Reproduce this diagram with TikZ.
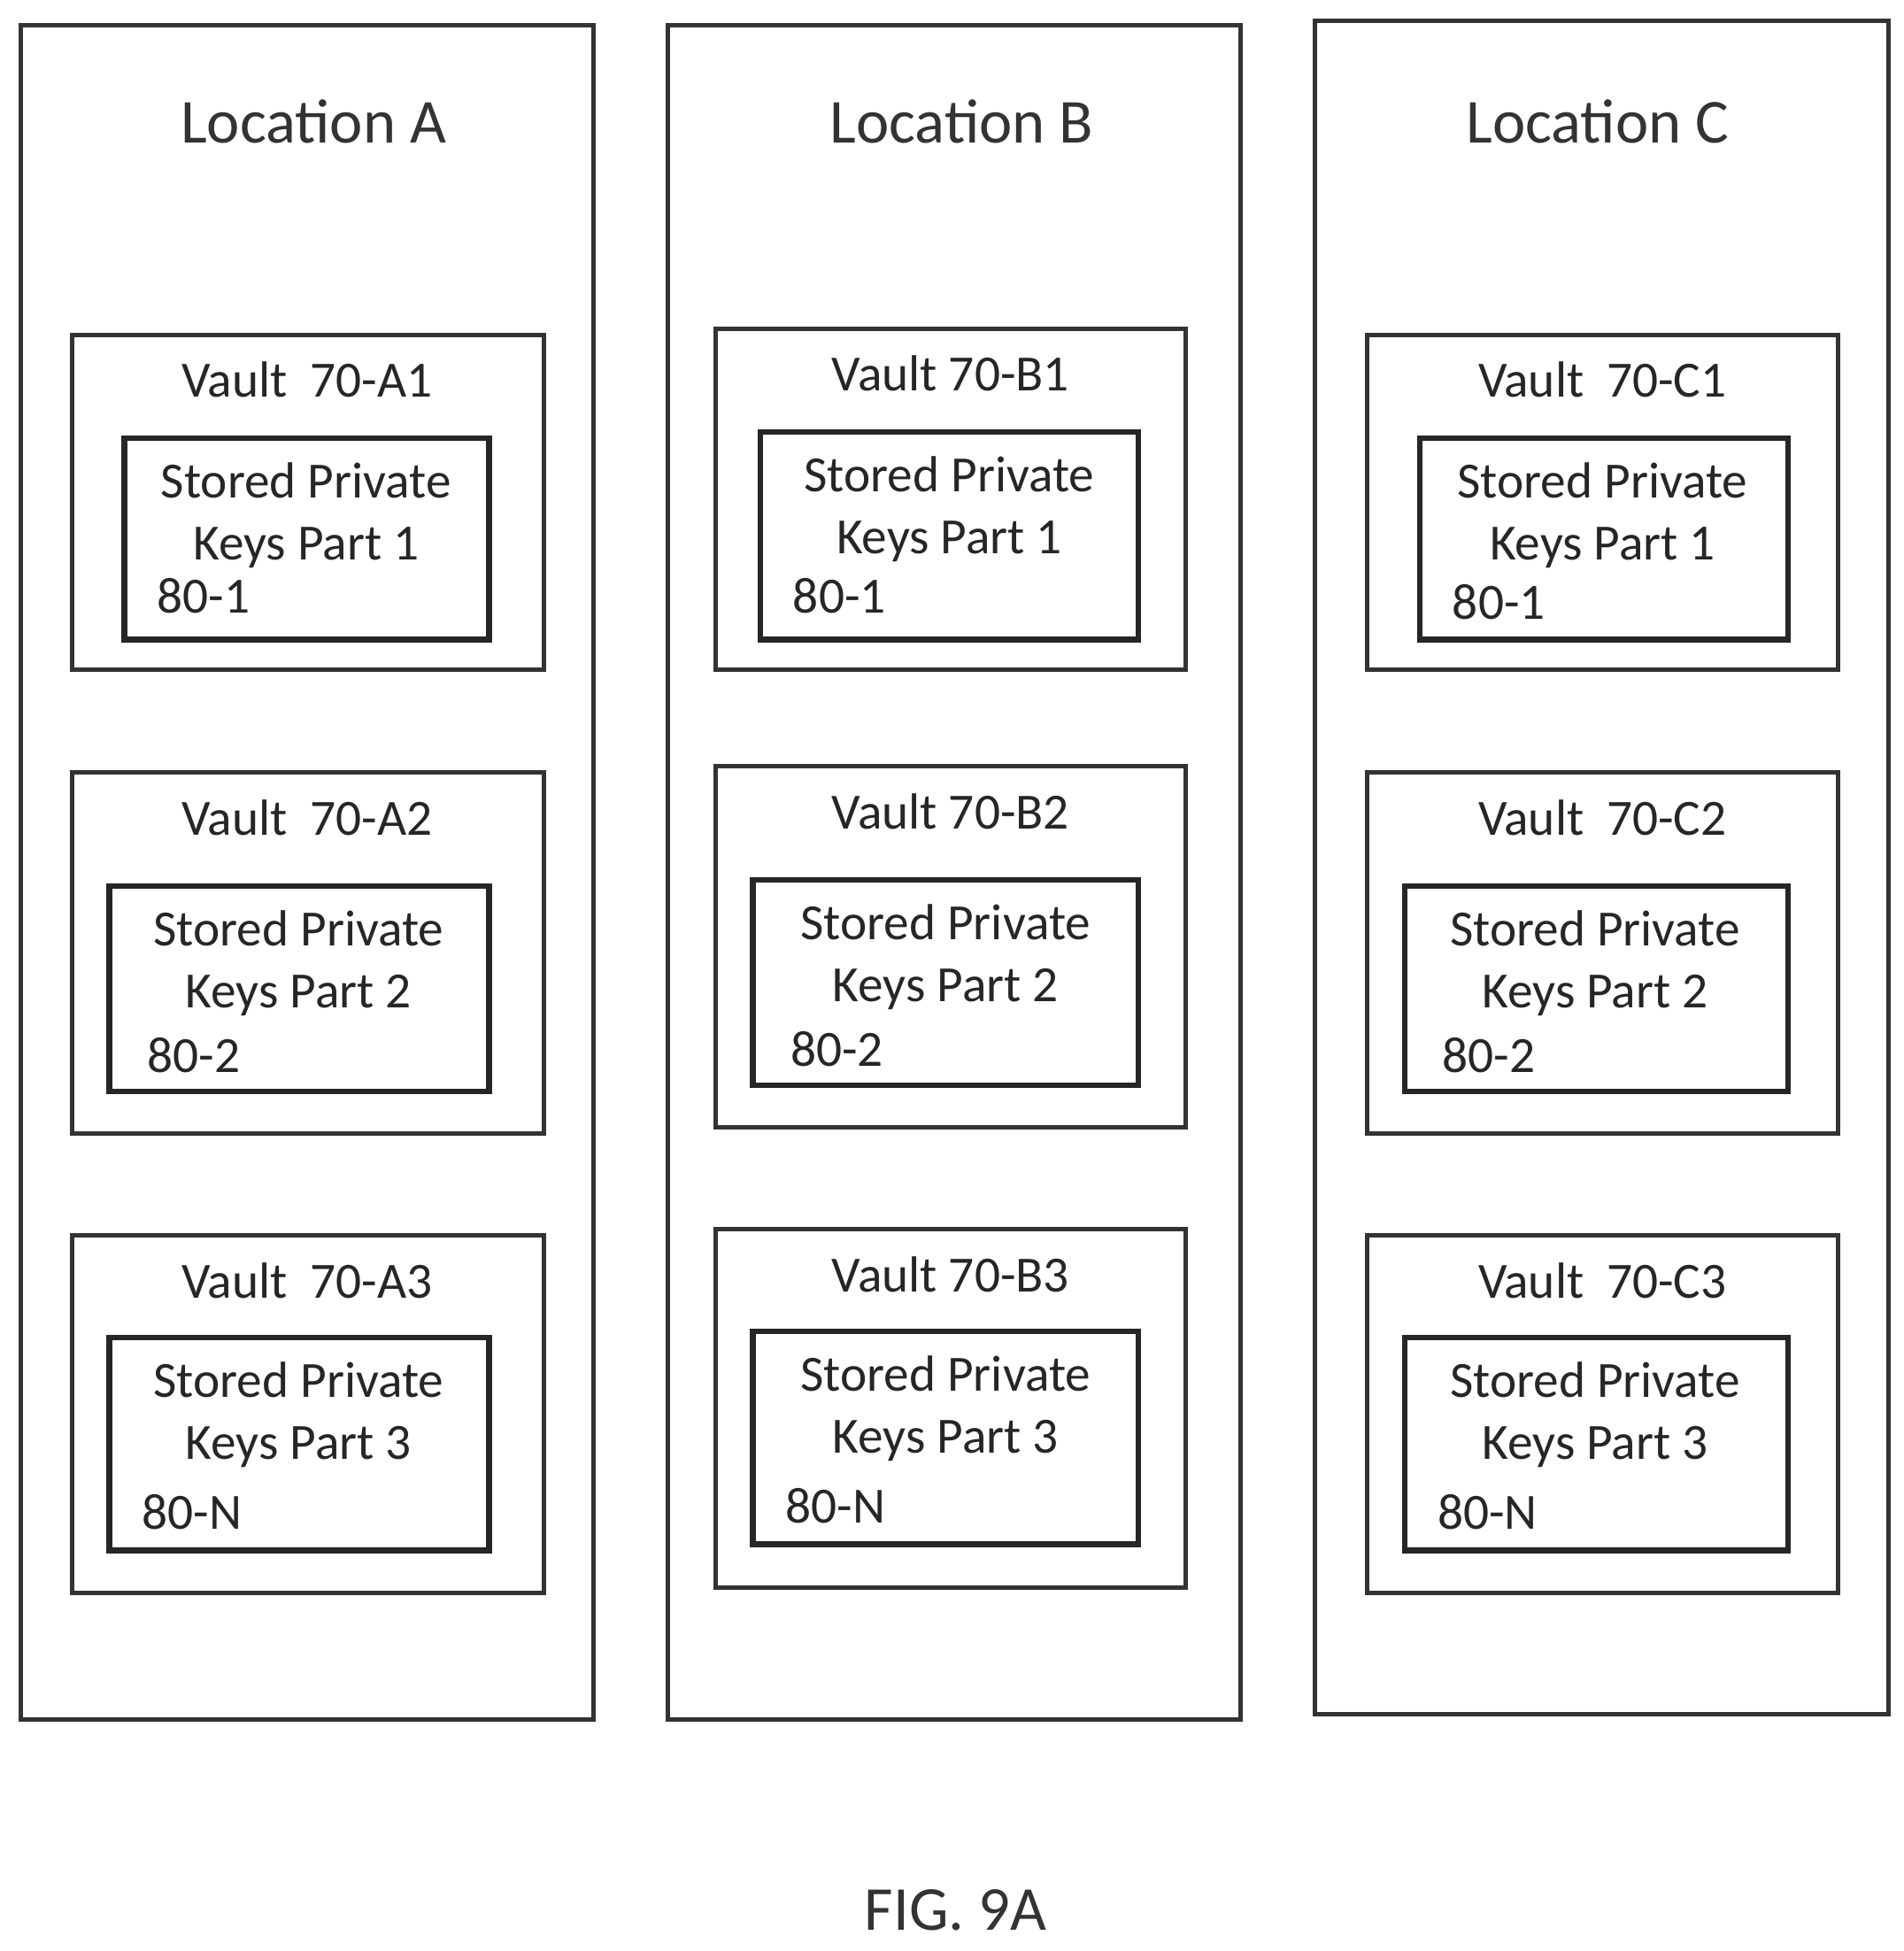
\documentclass[tikz,border=0pt]{standalone}
\usepackage{fontspec}
\setmainfont{Carlito}
\begin{document}
\begin{tikzpicture}
  [x=0.01cm,y=-0.01cm,
  location/.style={rectangle,draw=black!80,line width=1pt,outer sep=0,inner sep=0},
  vault/.style={rectangle,draw=black!80,line width=1pt,outer sep=0,inner sep=0},
  keys/.style={rectangle,draw=black!85,line width=1.3pt,outer sep=0,inner sep=0},
  title/.style={font=\fontsize{14.3}{17}\selectfont,text=black!80},
  label/.style={font=\fontsize{11.6}{13}\selectfont,text=black!85},
  part/.style={font=\fontsize{11.6}{14.2}\selectfont,text=black!85,align=center},
  ref/.style={font=\fontsize{11.6}{13}\selectfont,text=black!85,anchor=west}
  ]
  \useasboundingbox (0,0) rectangle (1530,1568);
  % locations
  \draw[location] (17,20) rectangle (477,1382);
  \draw[location] (537,20) rectangle (997,1382);
  \draw[location] (1057,17) rectangle (1518,1378);
  \node[title] (locA) at (252,98) {Location A};
  \node[title] (locB) at (773,98) {Location B};
  \node[title] (locC) at (1284,98) {Location C};
  % vaults, location A
  \draw[vault] (58,269) rectangle (437,538);
  \draw[vault] (58,621) rectangle (437,911);
  \draw[vault] (58,993) rectangle (437,1280);
  \node[label] (vA1) at (247,305) {Vault\ \ 70-A1};
  \node[label] (vA2) at (247,657) {Vault\ \ 70-A2};
  \node[label] (vA3) at (247,1029) {Vault\ \ 70-A3};
  \draw[keys] (100,352) rectangle (393,514);
  \draw[keys] (88,712) rectangle (393,877);
  \draw[keys] (88,1075) rectangle (393,1246);
  \node[part] (kA1) at (246,414) {Stored Private\\Keys Part 1};
  \node[part] (kA2) at (240,774) {Stored Private\\Keys Part 2};
  \node[part] (kA3) at (240,1137) {Stored Private\\Keys Part 3};
  \node[ref] (rA1) at (114,479) {80-1};
  \node[ref] (rA2) at (106,848) {80-2};
  \node[ref] (rA3) at (102,1215) {80-N};
  % vaults, location B
  \draw[vault] (575,264) rectangle (953,538);
  \draw[vault] (575,616) rectangle (953,906);
  \draw[vault] (575,988) rectangle (953,1276);
  \node[label] (vB1) at (764,300) {Vault 70-B1};
  \node[label] (vB2) at (764,652) {Vault 70-B2};
  \node[label] (vB3) at (764,1024) {Vault 70-B3};
  \draw[keys] (611,347) rectangle (915,514);
  \draw[keys] (605,707) rectangle (915,872);
  \draw[keys] (605,1070) rectangle (915,1241);
  \node[part] (kB1) at (763,409) {Stored Private\\Keys Part 1};
  \node[part] (kB2) at (760,769) {Stored Private\\Keys Part 2};
  \node[part] (kB3) at (760,1132) {Stored Private\\Keys Part 3};
  \node[ref] (rB1) at (625,479) {80-1};
  \node[ref] (rB2) at (623,843) {80-2};
  \node[ref] (rB3) at (619,1210) {80-N};
  % vaults, location C
  \draw[vault] (1099,269) rectangle (1477,538);
  \draw[vault] (1099,621) rectangle (1477,911);
  \draw[vault] (1099,993) rectangle (1477,1280);
  \node[label] (vC1) at (1288,305) {Vault\ \ 70-C1};
  \node[label] (vC2) at (1288,657) {Vault\ \ 70-C2};
  \node[label] (vC3) at (1288,1029) {Vault\ \ 70-C3};
  \draw[keys] (1141,352) rectangle (1437,514);
  \draw[keys] (1129,712) rectangle (1437,877);
  \draw[keys] (1129,1075) rectangle (1437,1246);
  \node[part] (kC1) at (1288,414) {Stored Private\\Keys Part 1};
  \node[part] (kC2) at (1282,774) {Stored Private\\Keys Part 2};
  \node[part] (kC3) at (1282,1137) {Stored Private\\Keys Part 3};
  \node[ref] (rC1) at (1155,484) {80-1};
  \node[ref] (rC2) at (1147,848) {80-2};
  \node[ref] (rC3) at (1143,1215) {80-N};
  \node[title] (fig) at (768,1535) {FIG. 9A};
\end{tikzpicture}
\end{document}
